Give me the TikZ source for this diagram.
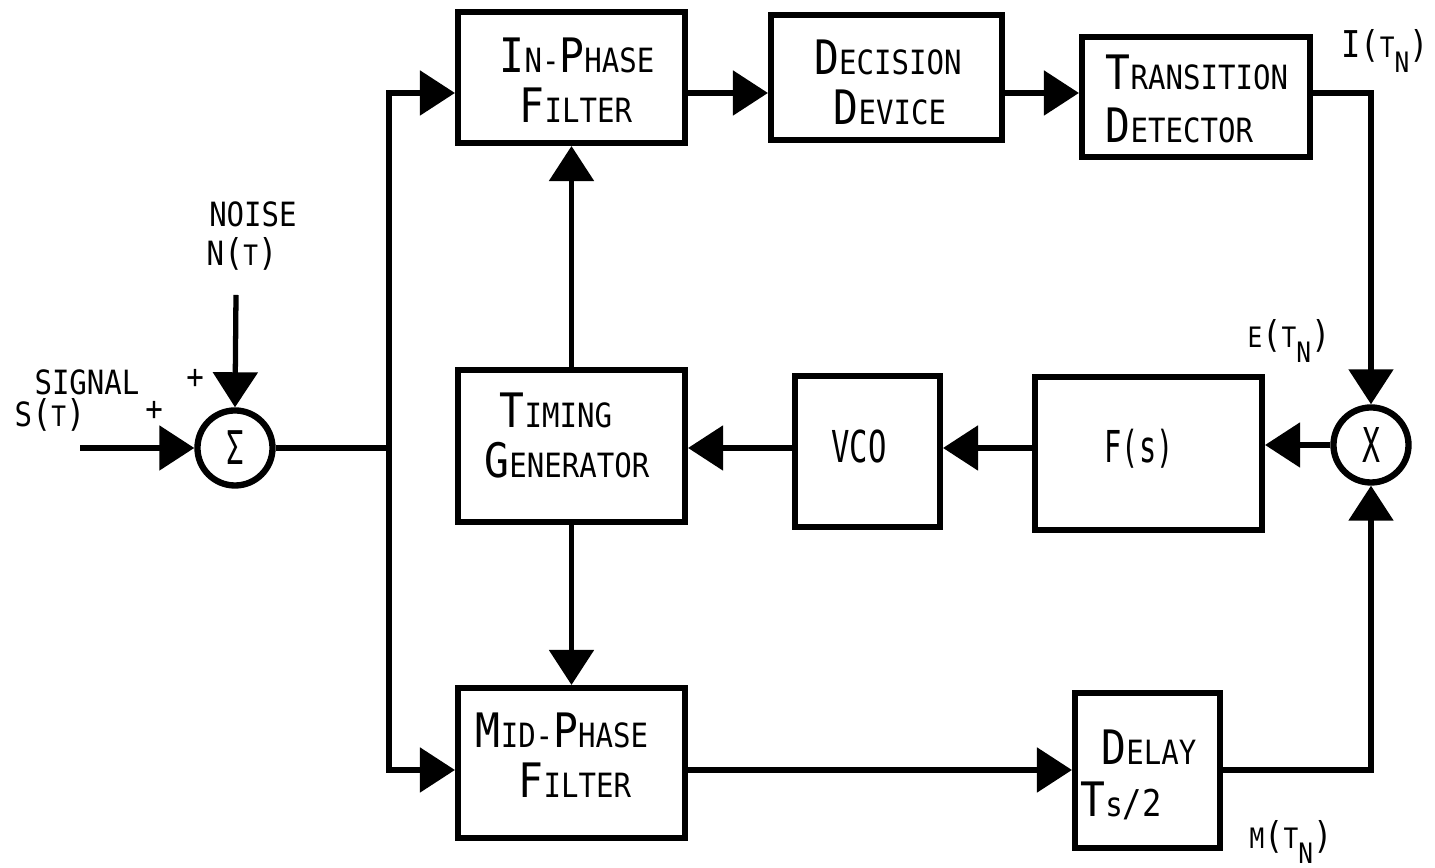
\documentclass[tikz,border=0pt]{standalone}
\usepackage{fontspec}
\setmainfont[FakeStretch=0.87]{DejaVu Sans Mono}
\usetikzlibrary{arrows.meta}

% large initial capitals for the small-caps style labels
\newcommand\Bg[1]{{\fontsize{13.5}{15}\selectfont #1}}
\newcommand\Md[1]{{\fontsize{10.5}{12}\selectfont #1}}
\newcommand\Sm[1]{{\fontsize{8}{9}\selectfont #1}}
\newcommand\Tn{\Sm{T}\raisebox{-0.8ex}{\Sm{N}}}

\tikzset{
  blk/.style={draw, line width=1.7pt, inner sep=0pt},
  wire/.style={line width=1.5pt},
  sig/.style={line width=1.5pt, -{Triangle[length=0.35cm,width=0.44cm]}},
  junc/.style={draw, circle, line width=1.8pt, minimum size=0.75cm, inner sep=0pt},
  txt/.style={inner sep=0pt, anchor=base, font=\fontsize{9.5}{11}\selectfont},
}

\begin{document}
\begin{tikzpicture}[x=0.01cm, y=-0.01cm]
\useasboundingbox (0,0) rectangle (1435,868);

% blocks
\node[blk, minimum width=2.27cm, minimum height=1.31cm] (ipf) at (571.5,77.5) {};
\node[blk, minimum width=2.31cm, minimum height=1.25cm] (dd)  at (886.5,77.5) {};
\node[blk, minimum width=2.28cm, minimum height=1.20cm] (td)  at (1196,97) {};
\node[blk, minimum width=2.27cm, minimum height=1.52cm] (tg)  at (571.5,446) {};
\node[blk, minimum width=1.45cm, minimum height=1.51cm] (vco) at (867.5,451.5) {};
\node[blk, minimum width=2.27cm, minimum height=1.53cm] (fs)  at (1148.5,453.5) {};
\node[blk, minimum width=2.27cm, minimum height=1.50cm] (mf)  at (571.5,763) {};
\node[blk, minimum width=1.45cm, minimum height=1.55cm] (dl)  at (1147.5,770.5) {};

% summing junction and multiplier
\node[junc] (sm) at (235,448) {\scalebox{0.8}[1.1]{\fontsize{12}{14}\selectfont Σ}};
\node[junc] (xm) at (1371,445) {\scalebox{0.75}[1.05]{\fontsize{13}{14}\selectfont X}};

% block texts
\node[txt] (t1) at (577,73) {\Bg{I}N-\Bg{P}HASE};
\node[txt] (t2) at (576,123) {\Bg{F}ILTER};
\node[txt] (t3) at (888,75) {\Bg{D}ECISION};
\node[txt] (t4) at (890,125) {\Bg{D}EVICE};
\node[txt, anchor=base west] (t5) at (1105,90) {\Bg{T}RANSITION};
\node[txt, anchor=base west] (t6) at (1105,143) {\Bg{D}ETECTOR};
\node[txt] (t7) at (556,428) {\Bg{T}IMING};
\node[txt] (t8) at (567,478) {\Bg{G}ENERATOR};
\node[txt] (t9) at (859,463) {\scalebox{0.8}[1]{\fontsize{12.5}{14}\selectfont VCO}};
\node[txt] (t10) at (1139,463) {\scalebox{0.75}[1]{\fontsize{12.5}{14}\selectfont F(s)}};
\node[txt] (t11) at (562,748) {\Bg{M}ID-\Bg{P}HASE};
\node[txt] (t12) at (575,798) {\Bg{F}ILTER};
\node[txt] (t13) at (1149,765) {\Bg{D}ELAY};
\node[txt] (t14) at (1121,817) {\Bg{T}s\Md{/2}};

% signal labels
\node[txt] (l1) at (1385,58) {\Md{I}\Md{(}\Tn\Md{)}};
\node[txt] (l2) at (1289,348) {\Sm{E}\Md{(}\Tn\Md{)}};
\node[txt] (l3) at (1291,849) {\Sm{M}\Md{(}\Tn\Md{)}};
\node[txt] (l4) at (253,227) {NOISE};
\node[txt] (l5) at (242,266) {N\Md{(}\Sm{T}\Md{)}};
\node[txt] (l6) at (87,395) {SIGNAL};
\node[txt] (l7) at (50,427) {S\Md{(}\Sm{T}\Md{)}};
\node[txt, anchor=center] (l8) at (195,379) {+};
\node[txt, anchor=center] (l9) at (154,411) {+};

% wiring
\coordinate (row1) at (0,93);
\coordinate (row2) at (0,448);
\coordinate (row3) at (0,770);
\coordinate (bus) at (389,448);
\coordinate (sin) at (80,448);
\coordinate (nin) at (236,295);

\draw[sig] (sin) -- (sm.west);
\draw[sig] (nin) -- (sm.north);
\draw[wire] (sm.east) -- (bus);
\draw[sig] (bus) |- (ipf.west |- row1);
\draw[sig] (bus) |- (mf.west |- row3);
\draw[sig] (ipf.east |- row1) -- (dd.west |- row1);
\draw[sig] (dd.east |- row1) -- (td.west |- row1);
\draw[sig] (td.east |- row1) -| (xm.north);
\draw[sig] (dl.east |- row3) -| (xm.south);
\draw[sig] (xm.west) -- (xm.west -| fs.east);
\draw[sig] (fs.west |- row2) -- (vco.east |- row2);
\draw[sig] (vco.west |- row2) -- (tg.east |- row2);
\draw[sig] (tg.north) -- (ipf.south);
\draw[sig] (tg.south) -- (mf.north);
\draw[sig] (mf.east |- row3) -- (dl.west |- row3);
\end{tikzpicture}
\end{document}
